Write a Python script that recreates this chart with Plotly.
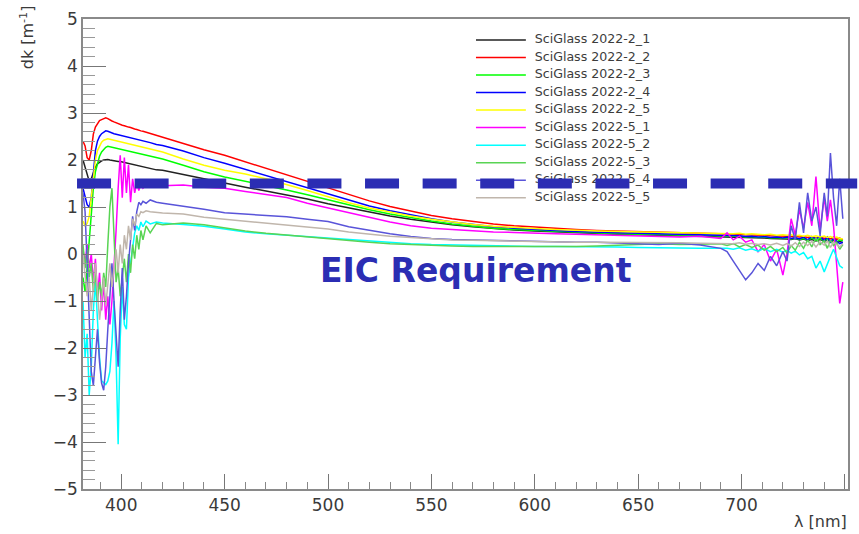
import plotly.graph_objects as go

# Wavelength grid [nm]: fine steps at the noisy blue edge, 10 nm through the
# smooth middle, 1.5-3 nm across the noisy red edge.
WL = ([381.5 + i for i in range(30)] + [412, 414, 417]
      + list(range(420, 700, 10))
      + [693, 696, 699, 702, 705, 708, 711, 714, 717, 720, 722, 724, 726, 728,
         730, 732, 734, 736, 738, 740, 741.5, 743, 744.5, 746, 747.5, 749])

NAMES = ["SciGlass 2022-2_1", "SciGlass 2022-2_2", "SciGlass 2022-2_3",
         "SciGlass 2022-2_4", "SciGlass 2022-2_5", "SciGlass 2022-5_1",
         "SciGlass 2022-5_2", "SciGlass 2022-5_3", "SciGlass 2022-5_4",
         "SciGlass 2022-5_5"]

dk_2_1 = ([2.00, 1.85, 1.65, 1.55, 1.60, 1.75, 1.85, 1.92, 1.96, 1.98, 2.00, 2.01, 2.01, 2.00, 1.99, 1.98, 1.98,
           1.97, 1.97, 1.96, 1.95, 1.94, 1.93, 1.92, 1.91, 1.90, 1.89, 1.88, 1.87, 1.86, 1.84, 1.82, 1.79]
          + [1.78, 1.69, 1.59, 1.50, 1.42, 1.34, 1.26, 1.17, 1.07, 0.98, 0.89, 0.81, 0.74, 0.68, 0.62, 0.58,
             0.54, 0.51, 0.49, 0.47, 0.45, 0.43, 0.42, 0.41, 0.40, 0.39, 0.38, 0.37]
          + [0.37, 0.36, 0.36, 0.35, 0.35, 0.34, 0.34, 0.33, 0.33, 0.32, 0.32, 0.31, 0.33, 0.30, 0.32, 0.29,
             0.31, 0.28, 0.31, 0.27, 0.30, 0.26, 0.29, 0.25, 0.27, 0.24])

dk_2_2 = ([2.40, 2.30, 2.05, 2.00, 2.20, 2.55, 2.70, 2.78, 2.84, 2.86, 2.88, 2.90, 2.88, 2.85, 2.83, 2.81, 2.79,
           2.77, 2.76, 2.74, 2.73, 2.71, 2.70, 2.69, 2.67, 2.66, 2.65, 2.63, 2.62, 2.61, 2.59, 2.56, 2.52]
          + [2.48, 2.36, 2.22, 2.10, 1.96, 1.82, 1.68, 1.54, 1.41, 1.26, 1.13, 1.01, 0.91, 0.82, 0.75, 0.69,
             0.64, 0.60, 0.57, 0.54, 0.52, 0.50, 0.49, 0.47, 0.46, 0.45, 0.44, 0.43]
          + [0.43, 0.42, 0.42, 0.41, 0.41, 0.40, 0.40, 0.39, 0.39, 0.38, 0.38, 0.37, 0.38, 0.36, 0.37, 0.35,
             0.37, 0.34, 0.36, 0.33, 0.35, 0.32, 0.36, 0.31, 0.34, 0.30])

dk_2_3 = ([-0.50, -0.80, -0.30, 0.30, 0.90, 1.40, 1.75, 1.95, 2.08, 2.17, 2.23, 2.27, 2.29, 2.28, 2.27, 2.26,
           2.25, 2.24, 2.23, 2.22, 2.21, 2.20, 2.19, 2.18, 2.17, 2.16, 2.15, 2.14, 2.13, 2.12, 2.10, 2.08, 2.05]
          + [2.02, 1.89, 1.75, 1.64, 1.55, 1.45, 1.36, 1.26, 1.15, 1.04, 0.94, 0.85, 0.77, 0.70, 0.64, 0.59,
             0.55, 0.52, 0.50, 0.48, 0.46, 0.44, 0.43, 0.42, 0.41, 0.40, 0.39, 0.38]
          + [0.38, 0.37, 0.38, 0.36, 0.37, 0.35, 0.36, 0.34, 0.35, 0.33, 0.35, 0.32, 0.34, 0.31, 0.33, 0.30,
             0.34, 0.29, 0.33, 0.28, 0.32, 0.27, 0.31, 0.26, 0.30, 0.28])

dk_2_4 = ([1.40, 1.20, 1.05, 1.00, 1.20, 1.70, 2.20, 2.40, 2.50, 2.56, 2.60, 2.62, 2.61, 2.59, 2.57, 2.56, 2.55,
           2.54, 2.53, 2.52, 2.51, 2.50, 2.49, 2.47, 2.46, 2.45, 2.44, 2.43, 2.42, 2.41, 2.39, 2.37, 2.33]
          + [2.31, 2.19, 2.05, 1.93, 1.80, 1.67, 1.54, 1.40, 1.27, 1.14, 1.02, 0.92, 0.83, 0.75, 0.68, 0.63,
             0.58, 0.55, 0.52, 0.50, 0.48, 0.46, 0.45, 0.44, 0.43, 0.42, 0.41, 0.40]
          + [0.39, 0.38, 0.39, 0.37, 0.38, 0.36, 0.37, 0.35, 0.36, 0.34, 0.36, 0.33, 0.35, 0.32, 0.36, 0.30,
             0.37, 0.31, 0.38, 0.28, 0.36, 0.25, 0.34, 0.27, 0.22, 0.25])

dk_2_5 = ([0.70, 0.60, 0.65, 0.80, 1.20, 1.60, 2.00, 2.20, 2.30, 2.38, 2.42, 2.44, 2.45, 2.44, 2.43, 2.42, 2.41,
           2.40, 2.39, 2.38, 2.37, 2.36, 2.35, 2.34, 2.33, 2.32, 2.31, 2.30, 2.29, 2.28, 2.26, 2.23, 2.20]
          + [2.17, 2.02, 1.89, 1.78, 1.70, 1.60, 1.48, 1.35, 1.22, 1.09, 0.98, 0.89, 0.81, 0.74, 0.68, 0.63,
             0.59, 0.56, 0.54, 0.52, 0.50, 0.49, 0.48, 0.47, 0.46, 0.45, 0.44, 0.43]
          + [0.44, 0.43, 0.44, 0.42, 0.43, 0.42, 0.41, 0.42, 0.40, 0.41, 0.40, 0.41, 0.39, 0.40, 0.38, 0.40,
             0.37, 0.39, 0.36, 0.38, 0.35, 0.37, 0.34, 0.36, 0.33, 0.32])

dk_5_1 = ([0.10, -0.20, 0.20, -0.30, 0.00, -0.60, -0.10, -0.90, -0.40, -1.20, -0.60, -1.40, -0.90, -1.50, -1.00,
           -0.30, 0.50, 1.40, 2.10, 1.20, 2.05, 1.30, 1.90, 1.10, 1.60, 1.30, 1.50, 1.35, 1.50, 1.40, 1.48, 1.42,
           1.45]
          + [1.45, 1.47, 1.42, 1.40, 1.33, 1.27, 1.20, 1.08, 0.98, 0.87, 0.77, 0.68, 0.60, 0.55, 0.52, 0.49,
             0.47, 0.46, 0.44, 0.43, 0.42, 0.41, 0.40, 0.38, 0.37, 0.36, 0.38, 0.33]
          + [0.45, 0.30, 0.38, 0.25, 0.30, 0.05, 0.20, -0.15, 0.10, -0.45, 0.00, 0.75, 0.40, 0.95, 0.55, 1.10,
             0.60, 1.65, 0.50, 1.20, 0.70, 1.15, 0.60, -0.30, -1.05, -0.60])

dk_5_2 = ([-1.00, -2.20, -1.70, -3.00, -2.40, -1.20, -0.60, -1.40, -2.20, -2.70, -2.75, -2.78, -2.70, -2.50,
           -1.90, -1.00, -2.20, -4.05, -1.80, -0.70, -1.50, -1.60, -0.50, -0.20, 0.20, 0.45, 0.60, 0.50, 0.68,
           0.58, 0.70, 0.64, 0.68]
          + [0.66, 0.63, 0.59, 0.53, 0.47, 0.43, 0.40, 0.37, 0.33, 0.30, 0.27, 0.24, 0.22, 0.20, 0.19, 0.18,
             0.17, 0.17, 0.16, 0.16, 0.16, 0.15, 0.15, 0.14, 0.13, 0.12, 0.12, 0.12]
          + [0.12, 0.10, 0.13, 0.08, 0.11, 0.06, 0.12, 0.05, 0.10, 0.04, 0.08, 0.02, 0.06, -0.02, 0.03, -0.10,
             -0.05, -0.30, -0.15, -0.38, -0.20, -0.05, 0.10, -0.10, -0.25, -0.30])

dk_5_3 = ([0.20, -0.30, 0.10, -0.50, -0.20, -0.80, -0.40, -1.00, -0.60, -0.90, -0.40, -0.70, 0.20, 1.00, 1.40,
           0.30, -0.60, -0.30, -0.90, -0.50, -0.10, -0.60, 0.00, -0.40, 0.20, -0.10, 0.40, 0.10, 0.50, 0.30,
           0.60, 0.45, 0.65]
          + [0.62, 0.66, 0.62, 0.55, 0.49, 0.44, 0.40, 0.36, 0.32, 0.28, 0.25, 0.22, 0.20, 0.18, 0.17, 0.16,
             0.16, 0.15, 0.15, 0.16, 0.16, 0.17, 0.18, 0.20, 0.22, 0.20, 0.21, 0.22]
          + [0.18, 0.22, 0.15, 0.20, 0.14, 0.19, 0.08, 0.16, 0.05, 0.14, 0.02, 0.18, 0.08, 0.25, 0.12, 0.30,
             0.15, 0.35, 0.20, 0.28, 0.12, 0.30, 0.18, 0.25, 0.10, 0.20])

dk_5_4 = ([1.30, 0.90, -0.20, -1.50, -2.50, -2.80, -2.20, -1.60, -2.30, -2.75, -2.90, -2.40, -1.60, -0.80,
           -0.20, -1.00, -1.80, -2.40, -1.20, -0.30, -1.40, -0.90, -0.20, 0.30, 0.80, 0.50, 0.90, 1.10, 1.05,
           1.12, 1.08, 1.15, 1.10]
          + [1.08, 1.02, 0.95, 0.88, 0.85, 0.83, 0.79, 0.74, 0.69, 0.58, 0.50, 0.43, 0.37, 0.33, 0.31, 0.30,
             0.28, 0.27, 0.26, 0.26, 0.25, 0.25, 0.23, 0.22, 0.20, 0.23, 0.19, 0.12]
          + [0.05, -0.15, -0.35, -0.55, -0.40, -0.20, -0.35, -0.05, -0.25, 0.05, -0.15, 0.60, 0.30, 1.10, 0.45,
             1.30, 0.70, 1.00, 0.40, 1.30, 0.80, 2.15, 1.20, 0.60, 1.60, 0.75])

dk_5_5 = ([0.00, -0.40, -0.90, -0.50, -1.20, -0.70, -0.20, -0.80, -1.40, -1.00, -0.50, -1.10, -0.60, -0.20,
           -0.70, -0.30, 0.10, -0.40, 0.20, -0.20, 0.40, 0.10, 0.60, 0.30, 0.75, 0.60, 0.85, 0.80, 0.90, 0.88,
           0.92, 0.90, 0.88]
          + [0.87, 0.85, 0.78, 0.74, 0.70, 0.66, 0.62, 0.58, 0.53, 0.47, 0.42, 0.38, 0.35, 0.32, 0.30, 0.29,
             0.28, 0.27, 0.26, 0.26, 0.25, 0.25, 0.25, 0.24, 0.24, 0.24, 0.23, 0.23]
          + [0.23, 0.22, 0.24, 0.21, 0.23, 0.20, 0.22, 0.19, 0.23, 0.18, 0.22, 0.17, 0.24, 0.16, 0.25, 0.18,
             0.27, 0.15, 0.26, 0.19, 0.28, 0.14, 0.25, 0.20, 0.15, 0.22])

SERIES = [dk_2_1, dk_2_2, dk_2_3, dk_2_4, dk_2_5, dk_5_1, dk_5_2, dk_5_3, dk_5_4, dk_5_5]
COLORS = ["#222222", "#ff0000", "#00ff00", "#0000ff", "#ffff00", "#ff00ff", "#00ffff",
          "#59d454", "#5954d9", "#c0b6ac"]

REQUIREMENT = 1.5          # dk limit [1/m]
X_RANGE = [381.5, 751.5]
Y_RANGE = [-5, 5]

for name, ys in zip(NAMES, SERIES):
    if len(ys) != len(WL):
        raise ValueError(f"{name}: {len(ys)} values for {len(WL)} wavelengths")

fig = go.Figure()
for name, ys, col in zip(NAMES, SERIES, COLORS):
    fig.add_trace(go.Scatter(x=WL, y=ys, name=name, mode="lines",
                             line=dict(color=col, width=1.5), showlegend=False))

# ROOT-style legend box drawn on a hidden overlay axis spanning the frame (0..1),
# so the requirement line (a shape above the data) crosses it like in TLegend.
LEG_X0, LEG_X1, LEG_TXT = 0.5137, 0.5789, 0.5905
LEG_TOP, LEG_STEP = 0.9554, 0.0373
for i, (name, col) in enumerate(zip(NAMES, COLORS)):
    yy = LEG_TOP - i * LEG_STEP
    fig.add_trace(go.Scatter(x=[LEG_X0, LEG_X1], y=[yy, yy], mode="lines",
                             line=dict(color=col, width=1.5), xaxis="x2", yaxis="y2",
                             showlegend=False, hoverinfo="skip"))
    fig.add_trace(go.Scatter(x=[LEG_TXT], y=[yy], mode="text", text=[name],
                             textposition="middle right",
                             textfont=dict(family="DejaVu Sans", size=12.6, color="#3c3c3c"),
                             xaxis="x2", yaxis="y2", showlegend=False, hoverinfo="skip"))

AX_FONT = dict(family="DejaVu Sans", size=17, color="#3a3a3a")
fig.update_xaxes(range=X_RANGE, showline=True, mirror=True, linecolor="#8a8a8a", linewidth=1.5,
                 ticks="inside", ticklen=15, tickcolor="#777", dtick=50, tick0=400,
                 minor=dict(dtick=10, ticklen=7, ticks="inside", tickcolor="#888"),
                 showgrid=False, zeroline=False, tickfont=AX_FONT)
fig.update_yaxes(range=Y_RANGE, showline=True, mirror=True, linecolor="#8a8a8a", linewidth=1.5,
                 ticks="inside", ticklen=23, tickcolor="#777", dtick=1,
                 minor=dict(dtick=0.2, ticklen=12, ticks="inside", tickcolor="#999"),
                 showgrid=False, zeroline=False, tickfont=AX_FONT)

# requirement line, running slightly past both frame edges
fig.add_shape(type="line", xref="paper", yref="y", x0=-0.0078, x1=1.012,
              y0=REQUIREMENT, y1=REQUIREMENT,
              line=dict(color="#2b2db3", width=10, dash="34px,23.6px"), layer="above")

fig.add_annotation(text="<b>EIC Requirement</b>", xref="paper", yref="paper",
                   x=0.514, y=0.465, showarrow=False, xanchor="center", yanchor="middle",
                   font=dict(family="DejaVu Sans", size=33, color="#2b2db3"))
fig.add_annotation(text="dk [m<sup>-1</sup>]", xref="paper", yref="paper",
                   x=-0.0732, y=1.0335, textangle=-90, showarrow=False,
                   xanchor="center", yanchor="top",
                   font=dict(family="DejaVu Sans", size=16, color="#3a3a3a"))
fig.add_annotation(text="λ [nm]", xref="paper", yref="paper",
                   x=1.0013, y=-0.069, showarrow=False, xanchor="right", yanchor="middle",
                   font=dict(family="DejaVu Sans", size=16, color="#3a3a3a"))

fig.update_layout(
    width=859, height=534,
    margin=dict(l=83, r=9, t=12, b=45),
    paper_bgcolor="white", plot_bgcolor="white",
    showlegend=False,
    xaxis2=dict(overlaying="x", range=[0, 1], visible=False, fixedrange=True),
    yaxis2=dict(overlaying="y", range=[0, 1], visible=False, fixedrange=True),
)

fig.write_html("out.html")
